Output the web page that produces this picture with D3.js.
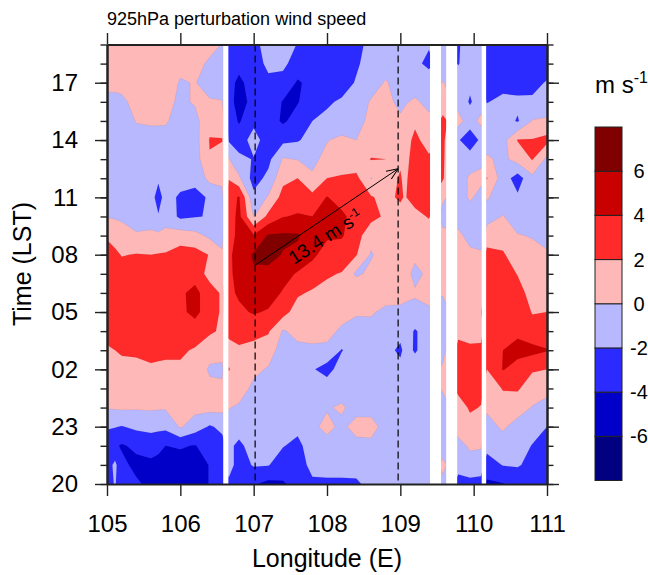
<!DOCTYPE html>
<html>
<head>
<meta charset="utf-8">
<script src="https://cdn.jsdelivr.net/npm/d3@7/dist/d3.min.js"></script>
<style>
  html, body { margin: 0; padding: 0; background: #fff; }
  svg { display: block; }
  text { font-family: "Liberation Sans", Arial, sans-serif; fill: #000; }
</style>
</head>
<body>
<div id="chart"></div>
<script>
// grid longitudes, extra ones sit on the edges of the missing strips and on narrow features
const lons = [105, 105.11, 105.2, 105.4, 105.6, 105.7, 105.8, 106, 106.2, 106.4, 106.57, 106.66, 106.8,
  107, 107.2, 107.4, 107.6, 107.8, 108, 108.2, 108.4, 108.6, 108.8, 109, 109.06, 109.2, 109.39,
  109.58, 109.79, 109.95, 110.1, 110.18, 110.4, 110.6, 110.8, 111];

// each column runs from the top of the plot (19 LST) to the bottom (20 LST), hourly
const speedByLon = [
  [1,1,.5,-.5,-1,-1,-1,-1,-.7,-.1,1.7,3,3,3,3,2.5,1.8,1.2,.8,.1,-1.7,-3.5,-3,-3],
  [1.1,1.1,.5,-.5,-1,-1,-1,-1,-.8,-.2,1.2,2.4,2.9,3.1,3.1,2.6,2,1.3,.9,.2,-1.9,-3.7,-1.5,-1.8],
  [1.2,1.2,.6,-.4,-1,-1,-1,-1,-1,-.3,.8,1.9,2.8,3.2,3.2,2.8,2.2,1.5,1,.3,-2.1,-4.2,-3.5,-3.5],
  [1.3,1.2,1,.6,.1,-.7,-1,-1,-1,-.8,.2,2.1,3,3.3,3.3,3,2.3,1.5,.9,.2,-1.6,-3.6,-4.5,-3.7],
  [1.3,1.3,1.2,.8,.2,-.6,-1,-1,-1,-.7,.3,2,3,3.5,3.5,3,2.4,1.8,.9,.3,-1.5,-3,-4.5,-4.5],
  [1.3,1.3,1.2,.7,.2,-.6,-1,-1.6,-3,-1.8,.4,2.1,3.1,3.5,3.5,3.1,2.4,1.7,.9,.2,-1.5,-3.5,-4.6,-4.6],
  [1.4,1.3,1.2,.6,.2,-.7,-1,-1,-1,-.7,.5,2.2,3.2,3.6,3.6,3.2,2.4,1.6,.9,.2,-1.5,-4,-4.8,-4.8],
  [1.4,.6,-.2,-.4,-.8,-1,-1,-1,-2.4,-2.4,1,2.9,3.3,3.7,3.6,3.2,2.3,1.7,1.2,.8,.2,-3.8,-4.8,-5],
  [1.3,.8,.1,.2,-.6,-.8,-1,-1.5,-2.5,-2.1,.6,2.8,3.3,4.5,4.5,3.1,1.8,1.5,1.2,.6,-1,-4.1,-5,-5],
  [.8,-.4,-.9,.2,1.4,2.1,1.9,.6,-1.8,-1.9,-.4,1.9,1.2,3,3,2.3,.8,-.3,.5,.7,-2.2,-3,-3.9,-3.9],
  [-.1,-.9,-1,.1,1,2.1,.9,.3,-.4,-.8,-.7,.3,.8,1.7,1.7,1.7,.5,-.3,.3,.6,-1.6,-2.6,-2.8,-3],
  [-3,-3.5,-3.2,-3,-2.7,-2.2,.1,1.9,3,3,3.2,3.5,3.5,3.5,3,2.5,1.3,2.1,1,.1,-.8,-1.5,-1,-2.5],
  [-3,-3.3,-4.5,-5,-4.2,-3,-1.5,.3,4.2,4.5,4.5,5,4.8,4.3,3.6,2.8,1.7,1.2,1,-.3,-1,-2.5,-3,-3.7],
  [-2.7,-3,-3,-3.2,-2.5,-1.2,-2.1,-2.8,-1.5,-.1,4.2,6.2,5.8,5,4.2,2.5,1.5,.5,-.5,-1,-1,-1,-1.8,-3.8],
  [-1,-1.5,-2.5,-3,-3,-3,-2.5,-1.5,.2,2.5,6.2,6.6,5.5,4.9,3.8,2.2,1,-.2,-1,-1,-1,-1,-1.9,-4.5],
  [-1,-1.5,-2.8,-4.1,-4.3,-2.5,.2,1.5,2.7,3.9,6.3,5.9,4.7,3.8,2.8,-.2,-1,-1,-1,-1,-1.2,-1.9,-3,-4.2],
  [-2.1,-3,-4.2,-4.1,-3.2,-2.2,-.1,2,3,4.2,6.2,5.5,3.8,2.3,1,.6,-.5,-1,-1,-1,-1.5,-2.5,-2.8,-3.3],
  [-3,-3.6,-3.5,-3,-2,-1.2,-.5,.3,2.6,4,4.8,4.3,3.3,1.7,.8,.6,-.3,-1.8,-1,-1,-.5,-1,-1.5,-2.3],
  [-3,-3,-3.2,-2.3,-1.5,-.1,.6,2,4.1,5,4.2,3.4,2.2,1.5,.7,.7,-.5,-2.8,-.8,-.2,.6,-.8,-1,-2.5],
  [-3,-3,-3,-1.7,-1.2,.4,1,2.2,3,4.5,4.2,3,1.9,.3,.9,-.4,-2.1,-1,-1,.3,-.5,-.8,-1,-2.5],
  [-2.7,-2.3,-1.8,-1.2,-.8,0,.7,2.5,3.2,3,2.8,2.1,-.4,2,.2,-.7,-1,-1,-1,-.8,.8,-.7,-1,-2.4],
  [-1.3,-1.1,-1,.2,.6,.8,2.1,-.1,2.2,2.6,.7,-.2,.5,.6,.2,-.6,-1,-1,-1,-1,1,-.7,-1,-1.2],
  [-1,-1,.2,.7,.8,.9,2,1,1.3,1.7,.5,1,1,.8,-.4,-.9,-1,-1,-1,-1,-1,-1,-1,-1],
  [-1,-1,-1,-.6,.4,.9,1.7,2.2,2.4,.9,.8,.8,.7,.5,-.3,-1,-2.6,-1,-1,-1,-1.5,-1,-1,-1],
  [-1,-1,-.8,-.2,.6,.9,1.2,1.5,1.8,.9,.8,.8,.7,.4,-.4,-1,-1.2,-1,-1,-1,-1.2,-1,-1,-1],
  [-1,-1.5,-1,.3,1.5,2.6,3,3.3,3,1.2,.4,.4,-.5,.2,-.5,-2.2,-2.2,-1,-1,-1,-1,-1,-1,-1],
  [-1.8,-2.5,-.8,-.6,.5,.9,2.4,2.8,2.6,2.2,.6,.2,.4,1,-.5,-1,-1,-1,-1,-1,-1,-1,-1,-1],
  [-1,-1,.1,.8,2.5,2.5,2.3,2.2,.3,-.7,.5,.8,.9,.2,-1,-1,-.6,.3,.2,-.8,-1,-.8,.4,-.4],
  [-2.2,-2.1,-1,-.8,.7,-1.8,-1,-1,-1,-.8,.4,.9,1,1,1.2,1.5,2.6,2.8,2.6,.9,.9,-.7,-1.4,-2.6],
  [-1,-1,-1.6,-2.2,-1,-3.2,-1,.3,.3,-1.2,-.6,.4,.9,.9,.9,1,2.5,3,2.8,2.3,1.2,.3,-.8,-2.6],
  [-1,-1,-1,-1,.6,-1.6,-.5,.5,-.7,-1,-1,.3,1,1.2,1.8,1.2,2.5,2.7,2.6,1.9,.8,.2,-1,-2.7],
  [-3.5,-3.8,-2.6,-2.1,-.8,-.8,.3,2.1,.2,-.8,1,2.6,3,3.2,4,3.5,2.5,2,1,.3,-.7,-1.3,-3,-4.3],
  [-3,-3,-2.7,-1.5,-1,-.7,-.5,-1,-1,.1,1.2,2.2,3,3.2,3.6,3.2,4,4.1,2.1,1.3,.3,-.9,-1.9,-4.1],
  [-3.2,-3.2,-3,-1.5,-2.2,2.1,.8,-2.9,-1.7,-1,.1,1,1.9,2.8,3.1,3.6,4.6,3.3,2.2,.9,-.8,-1,-1.8,-3.4],
  [-3,-3.5,-2.7,-1.6,.1,2.1,2.1,-.5,-1,-1,-.1,.5,1,1.2,1.9,2.7,4.6,2.2,1,-.1,-1,-2.1,-2.6,-3.2],
  [-4,-3.2,-1.8,-1.3,.3,2.6,-.5,-1,-1,-1,-.8,.3,.7,1,2,2.8,4.1,2,.7,-.8,-2,-2.7,-2.9,-3.2]
];

const levels = [-6, -4, -2, 0, 2, 4, 6];
const fillColors = ["#000080", "#0000c8", "#2b2bff", "#b8b8ff", "#ffb8b8", "#ff2b2b", "#c80000", "#800000"];
const missingStrips = [[106.585, 106.655], [109.405, 109.555], [109.625, 109.775], [110.11, 110.17]];
const lonTicks = [105, 106, 107, 108, 109, 110, 111];
const hourTicks = [0, 3, 6, 9, 12, 15, 18, 21];
const hourLabels = ["20", "23", "02", "05", "08", "11", "14", "17"];
const dashedLons = [107.02, 108.97];
const arrowLons = [107.02, 108.97];
const arrowHours = [11.45, 16.5];

const width = 648;
const height = 575;
const plot = { left: 107, right: 547, top: 44.5, bottom: 484 };

const svg = d3.select("#chart").append("svg").attr("width", width).attr("height", height);

const xScale = d3.scaleLinear().domain([105, 111]).range([plot.left, plot.right]);
// hours counted from 20 LST up to 19 LST the next day
const yScale = d3.scaleLinear().domain([0, 23]).range([plot.bottom, plot.top]);

const nx = lons.length;
const ny = speedByLon[0].length;
const values = [];
for (let j = 0; j < ny; j++) {
  for (let i = 0; i < nx; i++) values.push(speedByLon[i][j]);
}

const colToX = d3.scaleLinear().domain(d3.range(nx)).range(lons.map(d => xScale(d)));
const rowToY = d3.scaleLinear().domain([0, ny - 1]).range([plot.top, plot.bottom]);
const gridPath = d3.geoPath(d3.geoTransform({
  point(px, py) {
    this.stream.point(colToX(px - 0.5), rowToY(py - 0.5));
  }
}));

const contours = d3.contours().size([nx, ny]).thresholds(levels)(values);

svg.append("clipPath").attr("id", "plot-clip").append("rect")
  .attr("x", plot.left).attr("y", plot.top)
  .attr("width", plot.right - plot.left).attr("height", plot.bottom - plot.top);

const field = svg.append("g").attr("clip-path", "url(#plot-clip)");

field.append("rect")
  .attr("x", plot.left).attr("y", plot.top)
  .attr("width", plot.right - plot.left).attr("height", plot.bottom - plot.top)
  .attr("fill", fillColors[0]);

field.selectAll("path")
  .data(contours)
  .enter()
  .append("path")
  .attr("d", gridPath)
  .attr("fill", (d, i) => fillColors[i + 1])
  .attr("stroke", "#000")
  .attr("stroke-opacity", 0.12)
  .attr("stroke-width", 0.5);

field.selectAll(".strip")
  .data(missingStrips)
  .enter()
  .append("rect")
  .attr("class", "strip")
  .attr("x", d => xScale(d[0]))
  .attr("width", d => xScale(d[1]) - xScale(d[0]))
  .attr("y", plot.top)
  .attr("height", plot.bottom - plot.top)
  .attr("fill", "#fff");

// dashed reference lines and the propagation arrow
svg.selectAll(".ref")
  .data(dashedLons)
  .enter()
  .append("line")
  .attr("class", "ref")
  .attr("x1", d => xScale(d)).attr("x2", d => xScale(d))
  .attr("y1", plot.top).attr("y2", plot.bottom)
  .attr("stroke", "#000")
  .attr("stroke-width", 1.2)
  .attr("stroke-dasharray", "7 4");

svg.append("defs").append("marker")
  .attr("id", "head")
  .attr("viewBox", "0 0 12 10")
  .attr("refX", 12).attr("refY", 5)
  .attr("markerWidth", 12).attr("markerHeight", 10)
  .attr("markerUnits", "userSpaceOnUse")
  .attr("orient", "auto")
  .append("path")
  .attr("d", "M0,0L12,5L0,10")
  .attr("fill", "none")
  .attr("stroke", "#000")
  .attr("stroke-width", 1);

svg.append("line")
  .attr("x1", xScale(arrowLons[0])).attr("y1", yScale(arrowHours[0]))
  .attr("x2", xScale(arrowLons[1])).attr("y2", yScale(arrowHours[1]))
  .attr("stroke", "#000")
  .attr("stroke-width", 1)
  .attr("marker-end", "url(#head)");

const speedLabel = svg.append("text")
  .attr("transform", "translate(294,265) rotate(-33)")
  .attr("font-size", 19);
speedLabel.append("tspan").text("13.4 m s");
speedLabel.append("tspan").attr("dy", -7).attr("font-size", 12).text("-1");

// frame and ticks on all four sides
const bottomAxis = d3.axisBottom(xScale).tickValues(lonTicks).tickFormat(d3.format("d"))
  .tickSize(12).tickSizeOuter(0).tickPadding(19);
const topAxis = d3.axisTop(xScale).tickValues(lonTicks).tickFormat("")
  .tickSize(11.5).tickSizeOuter(0);
const leftMajor = d3.axisLeft(yScale).tickValues(hourTicks).tickFormat((d, i) => hourLabels[i])
  .tickSize(12).tickSizeOuter(0).tickPadding(17);
const leftMinor = d3.axisLeft(yScale).tickValues(d3.range(0, 24)).tickFormat("")
  .tickSize(6.5).tickSizeOuter(0);
const rightMajor = d3.axisRight(yScale).tickValues(hourTicks).tickFormat("")
  .tickSize(12).tickSizeOuter(0);
const rightMinor = d3.axisRight(yScale).tickValues(d3.range(0, 24)).tickFormat("")
  .tickSize(6.5).tickSizeOuter(0);

const addAxis = (axis, x, y, fontSize) => {
  const g = svg.append("g").attr("transform", `translate(${x},${y})`).call(axis);
  g.attr("font-family", null).attr("font-size", fontSize);
  g.selectAll("path").attr("stroke", "#222").attr("stroke-width", 2);
  g.selectAll("line").attr("stroke", "#222").attr("stroke-width", 1.4);
  return g;
};

addAxis(topAxis, 0, plot.top);
addAxis(leftMinor, plot.left, 0);
addAxis(rightMinor, plot.right, 0);
addAxis(rightMajor, plot.right, 0);
addAxis(bottomAxis, 0, plot.bottom, 24);
addAxis(leftMajor, plot.left, 0, 24);

// titles
svg.append("text").attr("x", 107).attr("y", 25).attr("font-size", 18)
  .text("925hPa perturbation wind speed");
svg.append("text").attr("x", 327).attr("y", 567).attr("text-anchor", "middle").attr("font-size", 25)
  .text("Longitude (E)");
svg.append("text").attr("transform", "translate(31,264) rotate(-90)").attr("text-anchor", "middle")
  .attr("font-size", 25).text("Time (LST)");

// colour bar
const barX = 595;
const barWidth = 27;
const barScale = d3.scaleLinear().domain([-8, 8]).range([480.5, 127]);
const barEdges = [-8, ...levels, 8];

svg.selectAll(".bar")
  .data(fillColors)
  .enter()
  .append("rect")
  .attr("class", "bar")
  .attr("x", barX)
  .attr("y", (d, i) => barScale(barEdges[i + 1]))
  .attr("width", barWidth)
  .attr("height", (d, i) => barScale(barEdges[i]) - barScale(barEdges[i + 1]))
  .attr("fill", d => d)
  .attr("stroke", "#222")
  .attr("stroke-width", 1);

svg.selectAll(".bar-label")
  .data(levels)
  .enter()
  .append("text")
  .attr("class", "bar-label")
  .attr("x", 639)
  .attr("y", d => barScale(d) + 7)
  .attr("text-anchor", "middle")
  .attr("font-size", 20)
  .text(d => d);

const unitLabel = svg.append("text").attr("x", 595).attr("y", 93).attr("font-size", 24);
unitLabel.append("tspan").text("m s");
unitLabel.append("tspan").attr("dy", -10).attr("font-size", 16).text("-1");
</script>
</body>
</html>
